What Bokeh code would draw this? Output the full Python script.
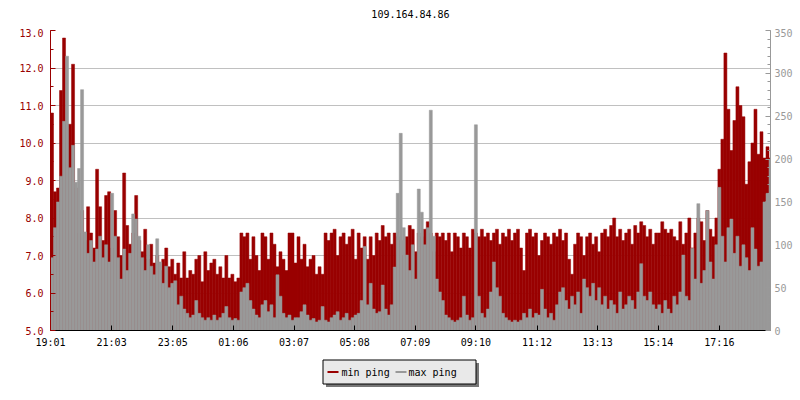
import numpy as np
from bokeh.plotting import figure
from bokeh.layouts import column
from bokeh.core.properties import value
from bokeh.models import (Range1d, LinearAxis, FixedTicker, SingleIntervalTicker,
                          PrintfTickFormatter)
from bokeh.embed import file_html
from bokeh.resources import INLINE

title_text = "109.164.84.86"
tick_labels = ["19:01", "21:03", "23:05", "01:06", "03:07", "05:08",
               "07:09", "09:10", "11:12", "13:13", "15:14", "17:16"]
series_names = ["min ping", "max ping"]
sample_minutes = 6  # one sample every 6 minutes, starting 19:01

min_ping = [
    10.8, 8.7, 8.8, 11.4, 12.8, 10.5, 10.5, 12.1, 8.8, 7.6,
    8.2, 7.4, 8.3, 7.6, 7.2, 9.3, 8.3, 7.4, 8.6, 8.7,
    7.2, 8.2, 7.5, 7.0, 9.2, 7.8, 7.3, 7.6, 8.6, 7.4,
    7.1, 7.7, 6.9, 7.3, 6.8, 7.0, 6.6, 6.9, 7.2, 6.7,
    6.9, 6.5, 6.8, 6.4, 7.1, 6.4, 6.6, 6.5, 6.9, 7.0,
    6.3, 7.1, 6.6, 6.8, 6.9, 6.5, 6.7, 6.4, 7.0, 6.4,
    6.5, 6.3, 6.4, 7.6, 7.5, 7.6, 6.9, 7.5, 7.0, 6.6,
    7.6, 7.5, 6.9, 7.6, 7.3, 6.7, 7.1, 6.9, 6.6, 7.6,
    7.6, 6.8, 7.5, 6.9, 7.3, 6.7, 6.9, 7.0, 6.5, 6.7,
    6.5, 7.6, 7.4, 7.6, 7.7, 7.0, 7.5, 7.6, 7.3, 7.5,
    7.7, 6.9, 7.6, 7.2, 7.5, 6.9, 7.5, 7.0, 7.6, 7.4,
    7.8, 7.5, 7.6, 7.3, 7.6, 7.5, 7.4, 7.0, 7.5, 7.8,
    7.7, 7.1, 7.6, 7.5, 7.7, 7.9, 7.6, 7.1, 7.6, 7.5,
    7.6, 7.4, 7.6, 7.1, 7.6, 7.5, 7.2, 7.6, 7.5, 7.2,
    7.7, 7.6, 7.5, 7.7, 7.5, 7.6, 7.4, 7.6, 7.7, 7.3,
    7.6, 7.5, 7.7, 7.4, 7.6, 7.7, 7.2, 6.6, 7.6, 7.7,
    7.5, 7.6, 7.0, 7.4, 7.6, 7.5, 7.3, 7.6, 7.5, 7.7,
    7.4, 7.6, 6.9, 6.5, 7.3, 7.6, 7.5, 7.0, 7.5, 7.6,
    7.3, 7.5, 7.1, 7.6, 7.7, 7.5, 7.8, 8.0, 7.5, 7.7,
    7.4, 7.6, 7.7, 7.3, 7.8, 7.6, 7.9, 7.8, 7.5, 7.7,
    7.3, 7.6, 7.6, 7.9, 7.7, 7.6, 7.7, 7.5, 7.4, 7.9,
    7.3, 7.6, 8.0, 7.2, 7.6, 8.0, 7.9, 7.4, 8.2, 7.7,
    7.5, 8.0, 9.3, 10.1, 12.4, 10.9, 9.8, 10.6, 11.5, 11.0,
    10.7, 8.9, 9.5, 10.0, 10.9, 9.7, 10.3, 9.6, 9.9, 9.6,
]

max_ping = [
    85, 120, 150, 180, 244, 320, 190, 216, 173, 189,
    281, 115, 90, 105, 80, 95, 110, 85, 100, 80,
    160, 110, 85, 60, 95, 70, 90, 136, 130, 110,
    85, 70, 100, 75, 65, 107, 80, 55, 75, 50,
    55, 58, 30, 40, 25, 20, 15, 18, 35, 20,
    15, 12, 15, 12, 18, 12, 15, 20, 28, 15,
    12, 14, 12, 45, 50, 55, 35, 25, 18, 15,
    30, 35, 22, 30, 15, 65, 40, 20, 15, 18,
    12, 15, 15, 22, 30, 18, 12, 14, 10, 12,
    28, 12, 10, 15, 18, 22, 12, 15, 20, 12,
    15, 18, 20, 35, 98, 30, 55, 25, 20, 22,
    53, 25, 18, 30, 74, 160, 230, 120, 88, 70,
    100, 60, 165, 138, 100, 120, 257, 110, 60, 45,
    35, 18, 15, 12, 10, 12, 15, 40, 18, 12,
    15, 240, 40, 20, 15, 25, 45, 80, 50, 40,
    20, 15, 12, 10, 12, 10, 12, 20, 15, 25,
    15, 20, 18, 48, 25, 15, 20, 12, 30, 45,
    50, 35, 25, 40, 30, 45, 20, 60, 50, 40,
    55, 35, 50, 30, 40, 25, 35, 30, 20, 45,
    25, 30, 40, 35, 25, 45, 78, 40, 35, 45,
    30, 25, 30, 20, 35, 25, 20, 40, 30, 45,
    88, 40, 35, 96, 60, 148, 55, 70, 140, 80,
    60, 100, 167, 110, 80, 120, 130, 90, 110, 75,
    100, 85, 70, 120, 95, 75, 80, 150, 160, 200,
]

RED = "#990000"
GRAY = "#999999"
SHADOW = "#777777"
FONT = "DejaVu Sans Mono"

# page geometry (pixels)
FRAME_L, FRAME_R = 50, 770
BORDER_R = 800 - FRAME_R


def to_minutes(s):
    h, m = s.split(":")
    return int(h) * 60 + int(m)


start = to_minutes(tick_labels[0])
tick_pos = []
for lab in tick_labels:
    t = to_minutes(lab) - start
    if t < 0:
        t += 1440
    tick_pos.append(t)

n = len(min_ping)
xs = np.arange(n) * sample_minutes + sample_minutes / 2.0


def strip(height, y_top, y_bottom):
    f = figure(width=800, height=height, output_backend="svg",
               toolbar_location=None,
               x_range=Range1d(FRAME_L, FRAME_R), y_range=Range1d(y_bottom, y_top),
               x_axis_type=None, y_axis_type=None,
               min_border_left=FRAME_L, min_border_right=BORDER_R,
               min_border_top=0, min_border_bottom=0)
    f.outline_line_color = None
    f.grid.visible = False
    f.background_fill_color = "white"
    f.border_fill_color = "white"
    return f


# ---------------- title strip (page y 0..28) ----------------
t = strip(28, 0, 28)
t.text(x=[(FRAME_L + FRAME_R) / 2], y=[13], text=[title_text],
       text_align="center", text_baseline="middle",
       text_font=value(FONT), text_font_size="10px", text_color="black")

# ---------------- main chart (page y 28..355) ----------------
p = figure(width=800, height=327, output_backend="svg", toolbar_location=None,
           x_range=Range1d(0, 1437), y_range=Range1d(5, 13),
           min_border_left=FRAME_L, min_border_right=BORDER_R, min_border_top=2,
           min_border_bottom=25)
p.extra_y_ranges = {"maxr": Range1d(0, 350)}
p.outline_line_color = None
p.background_fill_color = "white"
p.border_fill_color = "white"

p.vbar(x=xs, top=min_ping, bottom=5, width=sample_minutes,
       fill_color=RED, line_color=RED, line_width=0.5)
p.vbar(x=xs, top=max_ping, bottom=0, width=sample_minutes,
       fill_color=GRAY, line_color=GRAY, line_width=0.5, y_range_name="maxr")

ya = p.yaxis[0]
ya.ticker = SingleIntervalTicker(interval=1, num_minor_ticks=2)
ya.formatter = PrintfTickFormatter(format="%.1f")
for attr in ("axis_line_color", "major_tick_line_color", "minor_tick_line_color",
             "major_label_text_color"):
    setattr(ya, attr, RED)
ya.major_tick_in = 5
ya.major_tick_out = 0
ya.minor_tick_in = 3
ya.minor_tick_out = 0
ya.major_label_text_font = FONT
ya.major_label_text_font_size = "10px"
ya.major_label_standoff = 7

ra = LinearAxis(y_range_name="maxr",
                ticker=SingleIntervalTicker(interval=50, num_minor_ticks=5))
for attr in ("axis_line_color", "major_tick_line_color", "minor_tick_line_color",
             "major_label_text_color"):
    setattr(ra, attr, GRAY)
ra.major_tick_in = 5
ra.major_tick_out = 0
ra.minor_tick_in = 3
ra.minor_tick_out = 0
ra.major_label_text_font = FONT
ra.major_label_text_font_size = "10px"
ra.major_label_standoff = 4
p.add_layout(ra, "right")

xa = p.xaxis[0]
xa.ticker = FixedTicker(ticks=tick_pos, minor_ticks=[])
xa.major_label_overrides = {t_: lab for t_, lab in zip(tick_pos, tick_labels)}
xa.axis_line_color = "black"
xa.major_tick_line_color = "black"
xa.major_tick_in = 5
xa.major_tick_out = 0
xa.minor_tick_line_color = None
xa.major_label_text_font = FONT
xa.major_label_text_font_size = "10px"
xa.major_label_text_color = "black"
xa.major_label_standoff = 6

p.xgrid.visible = False
p.ygrid.grid_line_color = "#c0c0c0"
p.ygrid.grid_line_width = 1

# ---------------- legend strip (page y 355..400) ----------------
q = strip(45, 355, 400)
q.quad(left=[325.5], right=[478.5], top=[362.5], bottom=[386.5],
       fill_color=SHADOW, line_color=None)
q.quad(left=[322.5], right=[475.5], top=[359.5], bottom=[383.5],
       fill_color="#e9e9e9", line_color="black", line_width=1)
q.segment(x0=[327, 395], x1=[338, 406], y0=[371.5, 371.5], y1=[371.5, 371.5],
          line_color=[RED, GRAY], line_width=2)
q.text(x=[341, 408], y=[371.5, 371.5], text=series_names,
       text_align="left", text_baseline="middle",
       text_font=value(FONT), text_font_size="10px", text_color="black")

layout = column(t, p, q, spacing=0)
open("out.html", "w").write(file_html(layout, INLINE))
